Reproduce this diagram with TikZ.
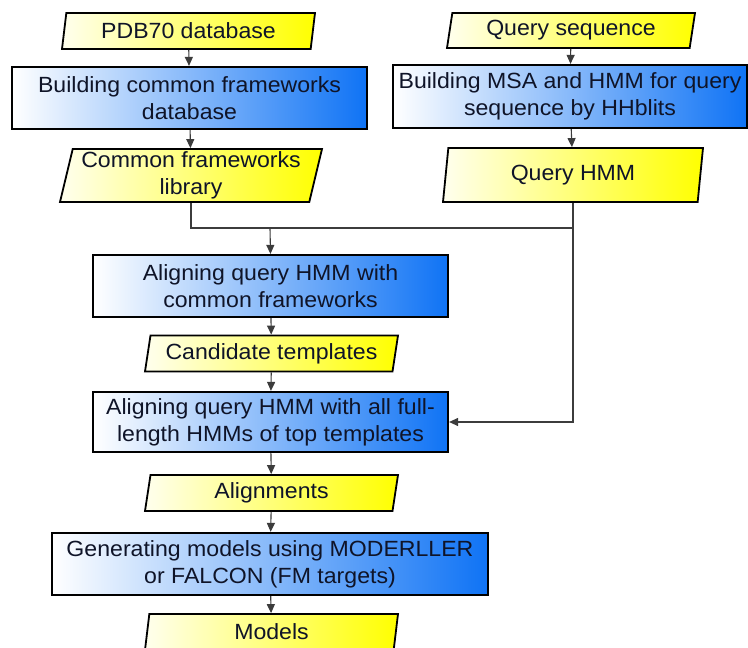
\documentclass[tikz,border=0pt]{standalone}
\usepackage{fontspec}
\setmainfont[FakeStretch=1.05]{Liberation Sans}
\usetikzlibrary{shapes.geometric,arrows.meta}
\definecolor{bblue}{RGB}{15,115,245}
\definecolor{yel}{RGB}{255,255,0}
\definecolor{yelw}{RGB}{255,255,238}
\definecolor{txt}{RGB}{15,20,40}
\definecolor{conn}{RGB}{60,60,60}
\begin{document}
\begin{tikzpicture}[x=1pt,y=-1pt,
 every node/.style={font=\fontsize{22}{27}\selectfont, text=txt, align=center, inner sep=0pt},
 proc/.style={rectangle, draw=black, line width=2.2pt, left color=white, right color=bblue, minimum width=#1, minimum height=62pt},
 data/.style={trapezium, trapezium left angle=75, trapezium right angle=105, trapezium stretches body, draw=black, line width=1.8pt, left color=yelw, right color=yel, minimum width=253pt, minimum height=36pt},
 link/.style={draw=conn, line width=1.1pt},
 arr/.style={link, -{Triangle[length=9pt,width=8pt]}}
]
\useasboundingbox (0,0) rectangle (748,648);
\clip (0,0) rectangle (748,648);
\fill[white] (0,0) rectangle (748,648);

\node[data] (pdb) at (188.5,31) {PDB70 database};
\node[proc=355pt] (b1) at (189.5,98) {Building common frameworks\\database};
\node[data, minimum width=262pt, minimum height=53pt] (cfl) at (191,175.5) {Common frameworks\\library};
\node[data, minimum width=248pt, minimum height=35pt] (qs) at (571,30.5) {Query sequence};
\node[proc=354pt, minimum height=63pt] (b2) at (570,96.5) {Building MSA and HMM for query\\sequence by HHblits};
\node[data, minimum width=260pt, minimum height=54pt] (qh) at (573,175) {Query HMM};
\node[proc=355pt] (b3) at (270.5,286) {Aligning query HMM with\\common frameworks};
\node[data] (ct) at (271.5,353.5) {Candidate templates};
\node[proc=355pt, minimum height=60pt] (b4) at (270.5,422) {Aligning query HMM with all full-\\length HMMs of top templates};
\node[data] (al) at (271.5,493) {Alignments};
\node[proc=436pt] (b5) at (270,564) {Generating models using MODERLLER\\or FALCON (FM targets)};
\node[data] (mo) at (271.5,632) {Models};

\coordinate (j) at (270,228);
\coordinate (k) at (573,228);

\draw[arr] (pdb) -- (b1);
\draw[arr] (b1) -- (cfl);
\draw[arr] (qs) -- (b2);
\draw[arr] (b2) -- (qh);
\draw[link] (cfl.south) |- (k);
\draw[arr] (j) -- (b3.north);
\draw[arr] (qh.south) |- (b4.east);
\draw[arr] (b3) -- (ct);
\draw[arr] (ct) -- (b4);
\draw[arr] (b4) -- (al);
\draw[arr] (al) -- (b5);
\draw[arr] (b5) -- (mo);
\end{tikzpicture}
\end{document}
